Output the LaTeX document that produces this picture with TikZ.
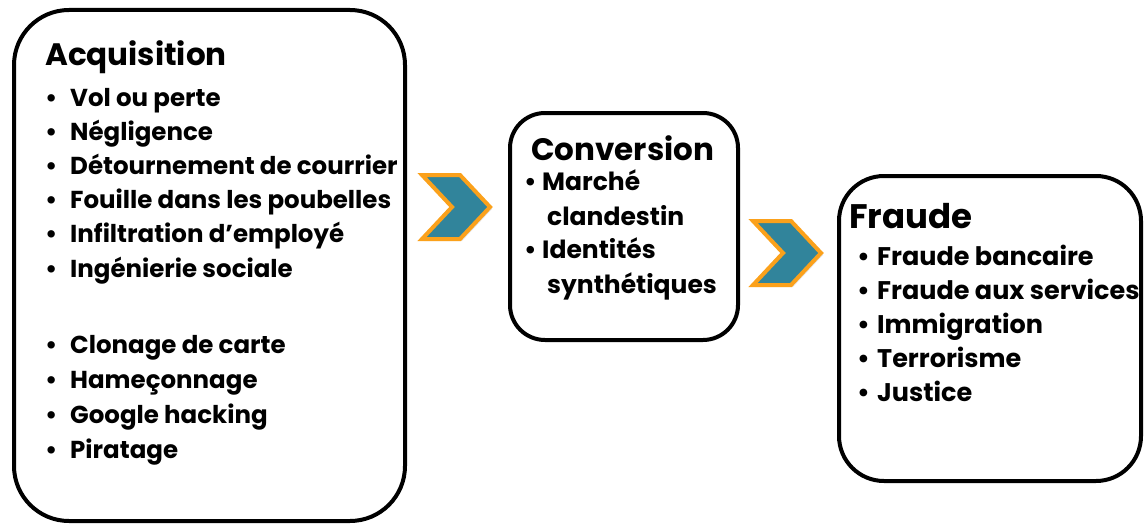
\documentclass[tikz,border=0pt]{standalone}
\usepackage{fontspec}
\setmainfont{Poppins}
\usetikzlibrary{shadows}

\definecolor{sarcelle}{HTML}{31849B}
\definecolor{orangevif}{HTML}{FBA11B}

% puce suivie du texte, #1 = retrait
\newcommand\puce[2]{\makebox[#1][l]{\textbullet}#2}

\begin{document}
\begin{tikzpicture}[x=1pt,y=-1pt,
    bloc/.style={draw=black, line width=4pt, rounded corners=#1, inner sep=0pt},
    titre/.style={anchor=base west, inner sep=0pt, font=\bfseries\fontsize{#1}{#1}\selectfont},
    ligne/.style={anchor=base west, inner sep=0pt, font=\bfseries\fontsize{#1}{#1}\selectfont},
    chevron/.pic={
        \path[fill=sarcelle, draw=orangevif, line width=4pt,
              drop shadow={opacity=.2, shadow xshift=2pt, shadow yshift=-2pt}]
            (-34,-32) -- (4,-32) -- (34,0) -- (4,32) -- (-34,32) -- (-4,0) -- cycle;
    }]
    \useasboundingbox (0,0) rectangle (1145,527);

    % Les trois blocs
    \node[bloc=55pt, minimum width=391pt, minimum height=511pt] (acq) at (209.5,265.5) {};
    \node[bloc=35pt, minimum width=228pt, minimum height=227pt] (conv) at (624,226.5) {};
    \node[bloc=45pt, minimum width=302pt, minimum height=305pt] (fraude) at (990,328.5) {};

    % Les chevrons entre les blocs
    \pic at (456,207) {chevron};
    \pic at (787,253) {chevron};

    % Bloc 1 : acquisition
    \node[titre=31] (acq-titre) at (45,66) {Acquisition};
    \foreach \t [count=\i from 0] in {Vol ou perte, Négligence, Détournement de courrier,
        Fouille dans les poubelles, Infiltration d’employé, Ingénierie sociale}
        \node[ligne=24.5] (acq-\i) at (45,106+34.2*\i) {\puce{25pt}{\t}};
    \foreach \t [count=\i from 0] in {Clonage de carte, Hameçonnage, Google hacking, Piratage}
        \node[ligne=24.5] (acq-b\i) at (45,353+35*\i) {\puce{25pt}{\t}};

    % Bloc 2 : conversion
    \node[titre=31] (conv-titre) at (531,160) {Conversion};
    \node[ligne=25] (conv-1) at (524,190) {\puce{18pt}{Marché}};
    \node[ligne=25] (conv-1b) at (547,225) {clandestin};
    \node[ligne=25] (conv-2) at (524,258) {\puce{18pt}{Identités}};
    \node[ligne=25] (conv-2b) at (547,293) {synthétiques};

    % Bloc 3 : fraude
    \node[titre=34] (fraude-titre) at (849,228) {Fraude};
    \foreach \t [count=\i from 0] in {Fraude bancaire, Fraude aux services,
        Immigration, Terrorisme, Justice}
        \node[ligne=25.5] (fraude-\i) at (857,265+34.2*\i) {\puce{20pt}{\t}};
\end{tikzpicture}
\end{document}
